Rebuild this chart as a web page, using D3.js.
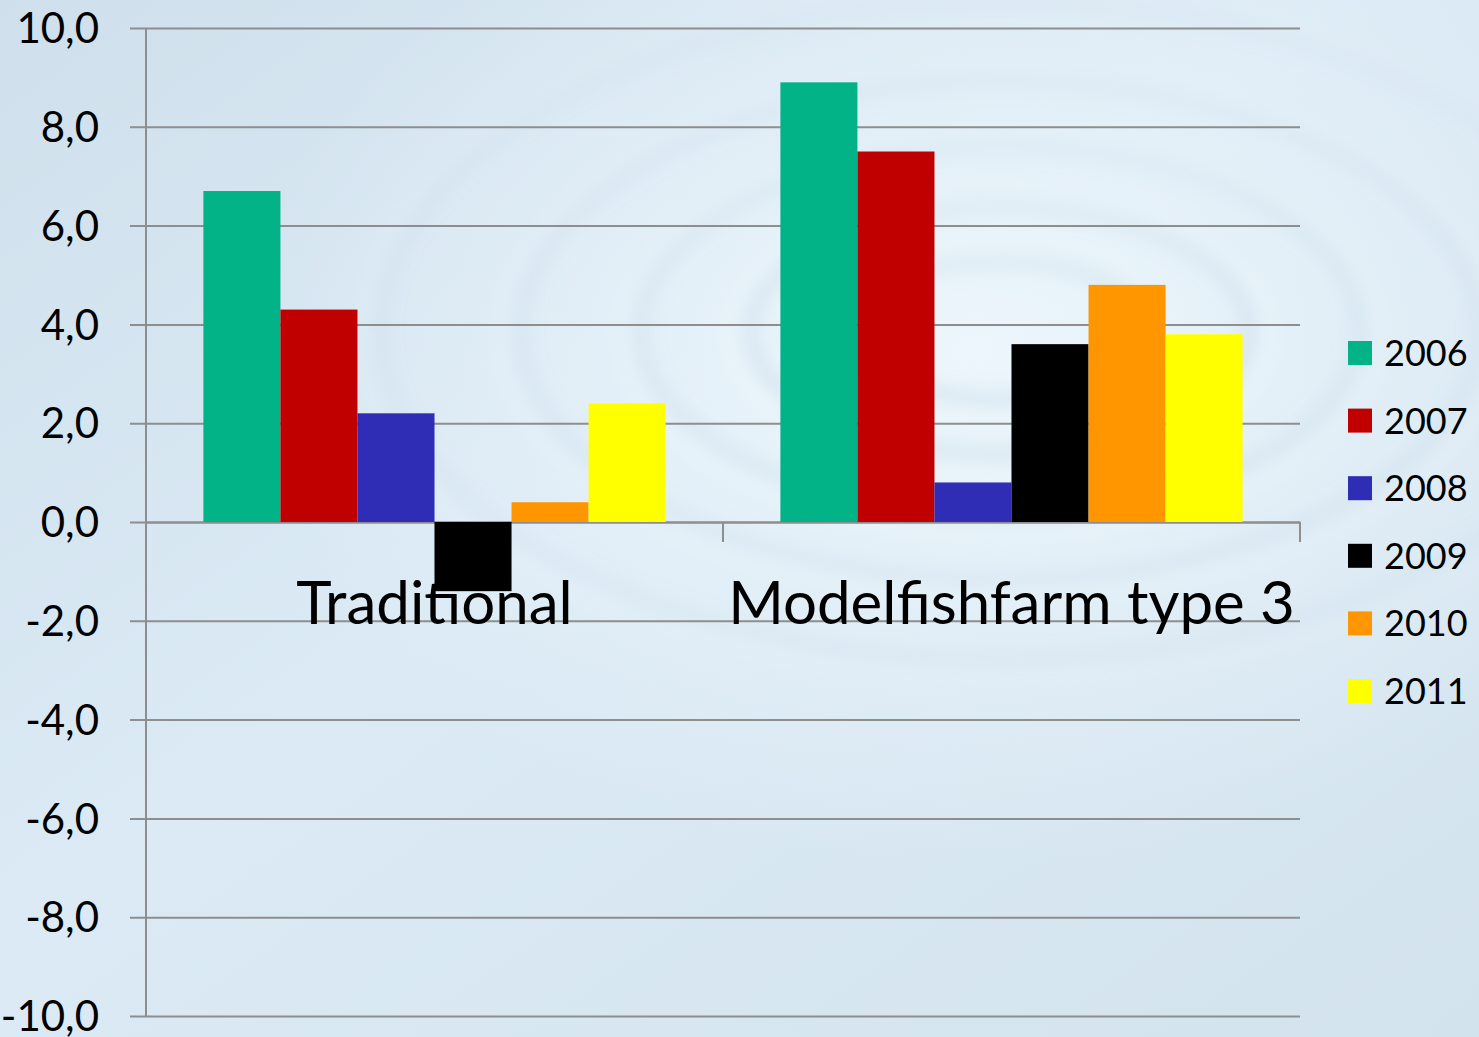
<!DOCTYPE html>
<html>
<head>
<meta charset="utf-8">
<script src="https://cdn.jsdelivr.net/npm/d3@7/dist/d3.min.js"></script>
<style>
  html, body { margin: 0; padding: 0; overflow: hidden; }
  svg { display: block; }
</style>
</head>
<body>
<svg id="chart" width="1479" height="1037"></svg>
<script>
// Result per farm type and year
const categories = ["Traditional", "Modelfishfarm type 3"];
const years = ["2006", "2007", "2008", "2009", "2010", "2011"];
const traditional = [6.7, 4.3, 2.2, -1.4, 0.4, 2.4];
const modelfishfarm = [8.9, 7.5, 0.8, 3.6, 4.8, 3.8];
const yearColors = ["#02b388", "#c00000", "#2f2cb5", "#000000", "#ff9600", "#ffff00"];
const yTicks = [-10, -8, -6, -4, -2, 0, 2, 4, 6, 8, 10];

const seriesByCategory = [traditional, modelfishfarm];

const W = 1479, H = 1037;
const svg = d3.select("#chart");
const defs = svg.append("defs");

// --- water-like backdrop ---
const base = defs.append("linearGradient").attr("id", "bgBase")
  .attr("x1", "0").attr("y1", "0").attr("x2", "1").attr("y2", "1");
base.append("stop").attr("offset", "0").attr("stop-color", "#cfe0ec");
base.append("stop").attr("offset", "0.45").attr("stop-color", "#dbeaf5");
base.append("stop").attr("offset", "1").attr("stop-color", "#d3e3ee");

const glow = defs.append("radialGradient").attr("id", "bgGlow")
  .attr("cx", "0.66").attr("cy", "0.34").attr("r", "0.5");
glow.append("stop").attr("offset", "0").attr("stop-color", "#eef7fc").attr("stop-opacity", 0.9);
glow.append("stop").attr("offset", "1").attr("stop-color", "#eef7fc").attr("stop-opacity", 0);

defs.append("filter").attr("id", "soft")
  .attr("x", "-20%").attr("y", "-20%").attr("width", "140%").attr("height", "140%")
  .append("feGaussianBlur").attr("stdDeviation", 9);

svg.append("rect").attr("width", W).attr("height", H).attr("fill", "url(#bgBase)");
svg.append("rect").attr("width", W).attr("height", H).attr("fill", "url(#bgGlow)");

const ripples = svg.append("g").attr("filter", "url(#soft)");
[[150, 70, 0.3], [250, 125, 0.26], [360, 185, 0.22], [480, 250, 0.18], [620, 330, 0.13]]
  .forEach(([rx, ry, op]) => {
    ripples.append("ellipse")
      .attr("cx", 1000).attr("cy", 330).attr("rx", rx).attr("ry", ry)
      .attr("fill", "none").attr("stroke", "#a9c3d6").attr("stroke-width", 14)
      .attr("stroke-opacity", op);
    ripples.append("ellipse")
      .attr("cx", 1000).attr("cy", 336).attr("rx", rx + 18).attr("ry", ry + 10)
      .attr("fill", "none").attr("stroke", "#f4fbff").attr("stroke-width", 10)
      .attr("stroke-opacity", op * 1.2);
  });

// --- scales ---
const plotLeft = 146, plotRight = 1300, plotTop = 28, plotBottom = 1016;

const y = d3.scaleLinear().domain([-10, 10]).range([plotBottom, plotTop]);
const x0 = d3.scaleBand().domain(categories).range([plotLeft, plotRight]).paddingInner(0).paddingOuter(0);
const x1 = d3.scaleBand().domain(years).range([0, x0.bandwidth()]).paddingInner(0).paddingOuter(0.745);
const color = d3.scaleOrdinal().domain(years).range(yearColors);

const fmt = v => v.toFixed(1).replace(".", ",");
const font = "Lato, 'Open Sans', sans-serif";

// --- gridlines and y axis ---
const yAxis = d3.axisLeft(y).tickValues(yTicks).tickFormat(fmt)
  .tickSize(-(plotRight - plotLeft)).tickSizeOuter(0).tickPadding(47);
const gy = svg.append("g").attr("transform", `translate(${plotLeft},0)`).call(yAxis);
gy.select(".domain").remove();
gy.selectAll(".tick line")
  .attr("x1", -16)
  .attr("stroke", "#8e8e8e").attr("stroke-width", 2);
gy.selectAll(".tick text")
  .attr("font-family", font).attr("font-size", 42).attr("fill", "#000")
  .attr("dy", "0.35em");

svg.append("line")
  .attr("x1", plotLeft).attr("x2", plotLeft)
  .attr("y1", y(10)).attr("y2", y(-10))
  .attr("stroke", "#8e8e8e").attr("stroke-width", 2);

// --- category axis at zero ---
const xAxis = d3.axisBottom(x0).tickSize(0).tickPadding(102);
const gx = svg.append("g").attr("transform", `translate(0,${y(0)})`).call(xAxis);
gx.select(".domain").attr("stroke", "#8e8e8e").attr("stroke-width", 2);
gx.selectAll(".tick text")
  .attr("font-family", font).attr("font-size", 60).attr("fill", "#000")
  .attr("dy", "0");

// category boundary ticks
const boundaries = categories.map(c => x0(c) + x0.bandwidth()).concat([x0(categories[0])]);
gx.selectAll(".cat-tick").data(boundaries).enter().append("line")
  .attr("x1", d => d).attr("x2", d => d)
  .attr("y1", 0).attr("y2", 20)
  .attr("stroke", "#8e8e8e").attr("stroke-width", 2);

// --- bars ---
const groups = svg.append("g").selectAll("g").data(categories).enter().append("g")
  .attr("transform", d => `translate(${x0(d)},0)`);

groups.selectAll("rect")
  .data((c, i) => years.map((yr, j) => ({ year: yr, value: seriesByCategory[i][j] })))
  .enter().append("rect")
  .attr("x", d => x1(d.year))
  .attr("width", x1.bandwidth())
  .attr("y", d => y(Math.max(0, d.value)))
  .attr("height", d => Math.abs(y(d.value) - y(0)))
  .attr("fill", d => color(d.year));

// --- legend ---
const legend = svg.append("g").attr("transform", "translate(1348,353)");
const item = legend.selectAll("g").data(years).enter().append("g")
  .attr("transform", (d, i) => `translate(0,${i * 67.6})`);
item.append("rect")
  .attr("x", 0).attr("y", -12).attr("width", 24).attr("height", 24)
  .attr("fill", d => color(d));
item.append("text")
  .attr("x", 36).attr("y", 0).attr("dy", "0.36em")
  .attr("font-family", font).attr("font-size", 36).attr("fill", "#000")
  .text(d => d);
</script>
</body>
</html>
